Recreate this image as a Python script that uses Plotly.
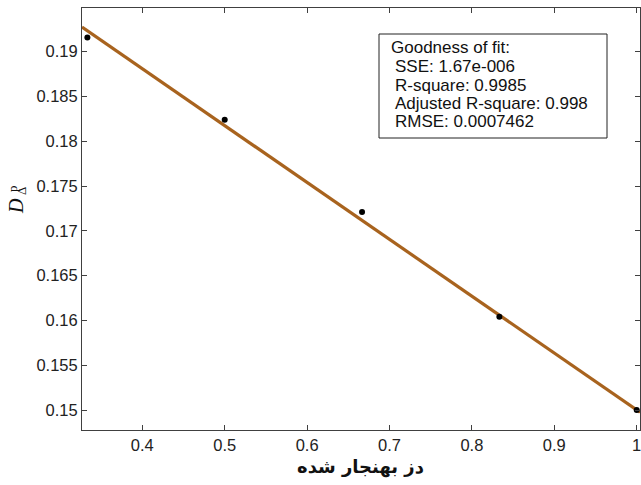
import plotly.graph_objects as go

# data
dose_norm = [1/3, 0.5, 2/3, 5/6, 1.0]
d_delta_p = [0.1916, 0.1824, 0.1721, 0.1604, 0.1500]

# fitted line endpoints
fit_x = [0.3268, 1.004]
fit_y = [0.19275, 0.14975]

x_ticks = [0.4, 0.5, 0.6, 0.7, 0.8, 0.9, 1.0]
x_tick_text = ["0.4", "0.5", "0.6", "0.7", "0.8", "0.9", "1"]
y_ticks = [0.15, 0.155, 0.16, 0.165, 0.17, 0.175, 0.18, 0.185, 0.19]
y_tick_text = ["0.15", "0.155", "0.16", "0.165", "0.17", "0.175", "0.18", "0.185", "0.19"]

gof_lines = [
    "Goodness of fit:",
    "SSE: 1.67e-006",
    "R-square: 0.9985",
    "Adjusted R-square: 0.998",
    "RMSE: 0.0007462",
]
x_title = "دز بهنجار شده"

W, H = 641, 485
L, R, T, B = 82, 1, 8, 55
PW, PH = W - L - R, H - T - B


def px(x):
    return (x - L) / PW


def py(y):
    return (H - B - y) / PH


fig = go.Figure()
fig.add_trace(go.Scatter(x=fit_x, y=fit_y, mode="lines",
                         line=dict(color="#A8631E", width=3.2), showlegend=False))
fig.add_trace(go.Scatter(x=dose_norm, y=d_delta_p, mode="markers",
                         marker=dict(color="black", size=6), showlegend=False, cliponaxis=False))

axis_common = dict(showline=True, linecolor="#404040", linewidth=1, mirror="ticks",
                   ticks="inside", ticklen=5, tickcolor="#404040", showgrid=False,
                   zeroline=False, automargin=False, ticklabeloverflow="allow",
                   tickfont=dict(family="Liberation Sans, Arial", size=16.5, color="#222"))

fig.update_xaxes(range=[0.3268, 1.004], tickvals=x_ticks, ticktext=x_tick_text, **axis_common)
fig.update_yaxes(range=[0.14777, 0.19488], tickvals=y_ticks, ticktext=y_tick_text, **axis_common)

# goodness-of-fit box
fig.add_shape(type="rect", xref="paper", yref="paper",
              x0=px(379), x1=px(607), y0=py(138), y1=py(34),
              line=dict(color="#222", width=1), fillcolor="white", layer="above")
line_y = [48, 67, 85, 103, 121]
for i, (txt, yy) in enumerate(zip(gof_lines, line_y)):
    fig.add_annotation(xref="paper", yref="paper", x=px(389 if i == 0 else 393), y=py(yy),
                       xanchor="left", yanchor="middle", text=txt, showarrow=False,
                       font=dict(family="Liberation Sans, Arial", size=17, color="#111"))

# x-axis title
fig.add_annotation(xref="paper", yref="paper", x=px(360), y=py(467), xanchor="center",
                   yanchor="middle", text="<b>" + x_title + "</b>", showarrow=False,
                   font=dict(family="DejaVu Sans", size=18, color="#111"))

# y-axis title D_Δ^p (rotated)
fig.add_annotation(xref="paper", yref="paper", x=px(16), y=py(206), xanchor="center",
                   yanchor="middle", text="<i>D</i>", textangle=-90, showarrow=False,
                   font=dict(family="Liberation Serif, Times New Roman", size=20, color="#111"))
fig.add_annotation(xref="paper", yref="paper", x=px(12), y=py(189), xanchor="center",
                   yanchor="middle", text="p", textangle=-90, showarrow=False,
                   font=dict(family="Liberation Serif, Times New Roman", size=13, color="#111"))
fig.add_annotation(xref="paper", yref="paper", x=px(21), y=py(191), xanchor="center",
                   yanchor="middle", text="Δ", textangle=-90, showarrow=False,
                   font=dict(family="Liberation Serif, Times New Roman", size=13, color="#111"))

fig.update_layout(width=W, height=H, margin=dict(l=L, r=R, t=T, b=B),
                  plot_bgcolor="white", paper_bgcolor="white")

fig.write_html("out.html", config={"displayModeBar": False},
               post_script="document.body.style.margin='0';")
